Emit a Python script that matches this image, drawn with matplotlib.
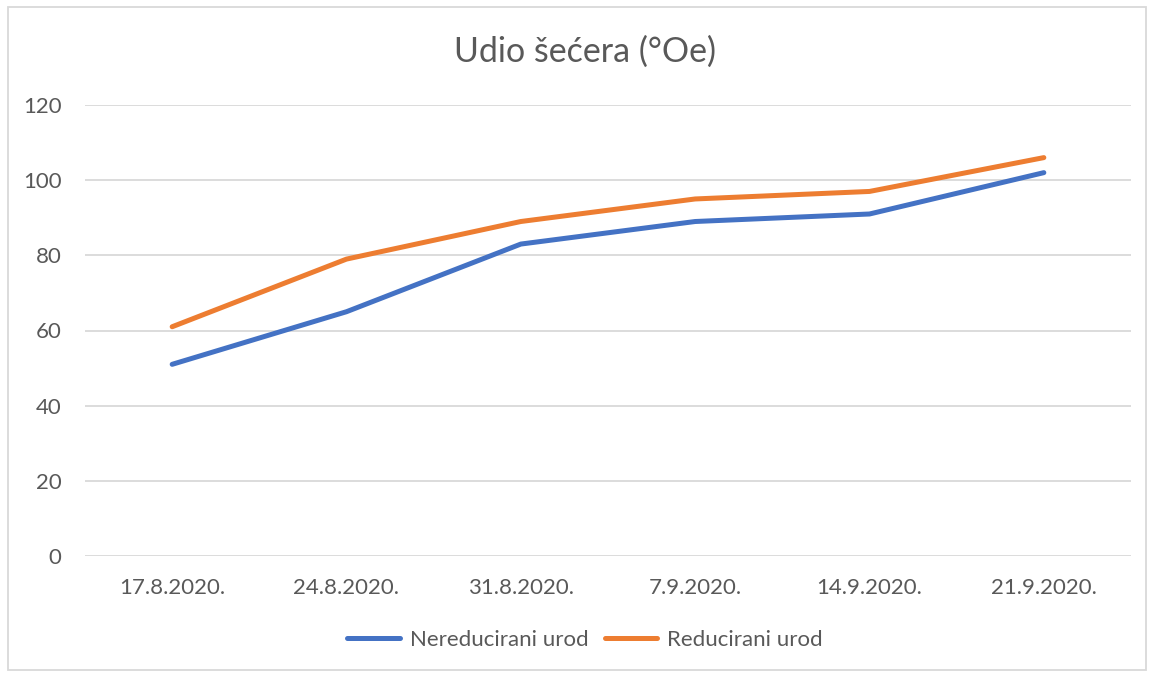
import matplotlib
matplotlib.use("Agg")
import matplotlib.pyplot as plt
from matplotlib.patches import Rectangle

# --- data ---
dates = ["17.8.2020.", "24.8.2020.", "31.8.2020.", "7.9.2020.", "14.9.2020.", "21.9.2020."]
nereducirani = [51, 65, 83, 89, 91, 102]
reducirani = [61, 79, 89, 95, 97, 106]
yticks = [0, 20, 40, 60, 80, 100, 120]

plt.rcParams["font.family"] = ["Lato", "DejaVu Sans"]
txt = "#595959"

fig = plt.figure(figsize=(11.54, 6.75), dpi=100)
ax = fig.add_axes([85/1154, 1 - 556/675, (1131-85)/1154, (556-105)/675])

x = list(range(len(dates)))
ax.plot(x, nereducirani, color="#4472C4", lw=3.6, solid_capstyle="round",
        solid_joinstyle="round", label="Nereducirani urod")
ax.plot(x, reducirani, color="#ED7D31", lw=3.6, solid_capstyle="round",
        solid_joinstyle="round", label="Reducirani urod")

ax.set_xlim(-0.5, len(dates) - 0.5)
ax.set_ylim(0, 120)
ax.set_yticks(yticks)
ax.set_xticks(x)
ax.set_xticklabels(dates)
ax.grid(axis="y", color="#D9D9D9", lw=1.3)
ax.set_axisbelow(True)
for s in ax.spines.values():
    s.set_visible(False)
ax.tick_params(length=0, labelsize=16, colors=txt)
ax.tick_params(axis="x", pad=16)
ax.tick_params(axis="y", pad=17)

# Excel centres title and legend on the whole chart area, not the plot area
fig.text(585/1154, 1 - 52/675, "Udio šećera (°Oe)", fontsize=24.5, color=txt,
         ha="center", va="center")

leg = fig.legend(loc="center", bbox_to_anchor=(585/1154, 1 - 640/675), ncol=2,
                 frameon=False, fontsize=16, handlelength=2.35,
                 handletextpad=0.45, columnspacing=0.75)
for t in leg.get_texts():
    t.set_color(txt)

fig.patches.append(Rectangle((8/1154, 5/675), (1146-8)/1154, (670-7)/675,
                             transform=fig.transFigure, fill=False,
                             edgecolor="#D9D9D9", lw=1.3))

fig.savefig("out.png", dpi=100)
